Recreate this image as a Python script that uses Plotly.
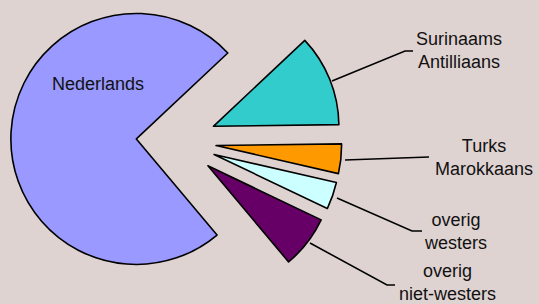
import math
import plotly.graph_objects as go

# ---- data ----
categories = ["Nederlands", "Surinaams Antilliaans", "Turks Marokkaans", "overig westers", "overig niet-westers"]
label_texts = ["Nederlands", "Surinaams<br>Antilliaans", "Turks<br>Marokkaans", "overig<br>westers", "overig<br>niet-westers"]
values = [74.1, 11.8, 3.8, 3.5, 6.8]
colors = ["#9999FF", "#33CCCC", "#FF9900", "#CCFFFF", "#660066"]

# ---- layout constants (pixels) ----
W, H = 539, 304
CX, CY = 176.3, 141.3      # centre of un-exploded pie (screen px)
R = 125.5                  # pie radius
PULL = 40.0                # explosion distance
ROTATION = 140             # clock angle where first slice starts
BG = "#DFD3D2"

total = sum(values)
fig = go.Figure()
cum = 0.0
for i, v in enumerate(values):
    a0 = ROTATION + 360.0 * cum / total
    a1 = a0 + 360.0 * v / total
    cum += v
    mid = math.radians((a0 + a1) / 2)
    ax = CX + PULL * math.sin(mid)
    ay = CY - PULL * math.cos(mid)
    dom_x = [max(0, (ax - R) / W), min(1, (ax + R) / W)]
    dom_y = [max(0, (H - ay - R) / H), min(1, (H - ay + R) / H)]
    fig.add_trace(go.Pie(
        labels=categories,
        values=values,
        sort=False,
        direction="clockwise",
        rotation=ROTATION,
        marker=dict(
            colors=[colors[j] if j == i else "rgba(0,0,0,0)" for j in range(len(values))],
            line=dict(color="black", width=[1.6 if j == i else 0 for j in range(len(values))]),
        ),
        textinfo="none",
        hoverinfo="skip",
        showlegend=False,
        domain=dict(x=dom_x, y=dom_y),
    ))

# label positions (screen px) and leader lines
label_pos = [(98, 84), (459, 50), (484, 157), (455, 231.5), (447, 282.5)]
leaders = [
    None,
    [(332, 81), (405, 51), (413, 51)],
    [(345, 160), (429, 157)],
    [(337, 198), (412, 231), (422, 231)],
    [(310, 243), (387, 285), (395, 285)],
]

annotations = []
for txt, (lx, ly) in zip(label_texts, label_pos):
    annotations.append(dict(
        text=txt, x=lx / W, y=1 - ly / H, xref="paper", yref="paper",
        xanchor="center", yanchor="middle", showarrow=False,
        borderpad=0, borderwidth=0,
        font=dict(family="Liberation Sans, Arial, sans-serif", size=18, color="#111111"),
    ))

shapes = []
for pts in leaders:
    if not pts:
        continue
    path = "M " + " L ".join(f"{x / W:.5f},{1 - y / H:.5f}" for x, y in pts)
    shapes.append(dict(type="path", path=path, xref="paper", yref="paper",
                       line=dict(color="black", width=1.6)))

fig.update_layout(
    width=W, height=H,
    margin=dict(l=0, r=0, t=0, b=0),
    paper_bgcolor=BG, plot_bgcolor=BG,
    annotations=annotations,
    shapes=shapes,
)

fig.write_html(
    "out.html",
    config={"displayModeBar": False},
    post_script="document.body.style.margin='0';document.body.style.overflow='hidden';",
)
